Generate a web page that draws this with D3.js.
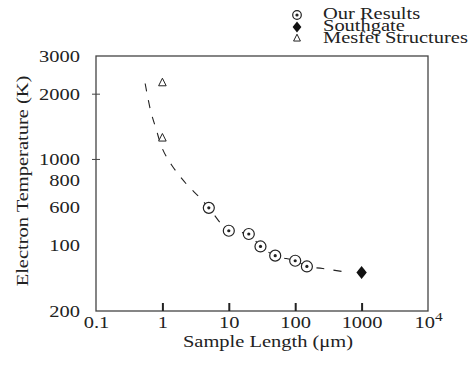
<!doctype html>
<html lang="en">
<head>
	<meta charset="UTF-8">
	<title>electron temperature</title>
	<script src="https://d3js.org/d3.v7.min.js"></script>
	<style>
		body { margin: 0; background: #fff; }
		svg text { font-family: 'Liberation Serif', 'DejaVu Serif', serif; fill: #222; }
	</style>
</head>
<body>
	<div id="chart"></div>
	<script>
		// data
		var ourLength = [5, 10, 20, 30, 50, 100, 150]
		var ourTemp = [598, 469, 453, 397, 360, 341, 321]
		var southLength = [1000]
		var southTemp = [301]
		var mesfetLength = [1, 1]
		var mesfetTemp = [2266, 1260]
		// dashed fit line
		var fitLength = [0.55, 0.67, 0.8, 1.0, 1.4, 2.3, 3.6, 5, 10, 20, 30, 50, 100, 150, 260, 560]
		var fitTemp = [2240, 1660, 1390, 1120, 935, 770, 670, 598, 469, 453, 397, 360, 341, 321, 314, 303]

		var xTickValues = [0.1, 1, 10, 100, 1000, 10000]
		var xTickLabels = ['0.1', '1', '10', '100', '1000', '10^4']
		var yLabelValues = [3000, 2000, 1000, 800, 600, 400, 200]
		var yTickLabels = ['3000', '2000', '1000', '800', '600', '100', '200']
		var yTickMarks = [2000, 1000]
		var legendLabels = ['Our Results', 'Southgate', 'Mesfet Structures']

		var w = 474, h = 374
		var m_left = 96, m_right = 428, m_top = 56, m_bottom = 311
		var fs = 16, stretch = 1.28   // the text in the figure is wide

		var svg = d3.select('#chart').append('svg')
			.attr('width', w)
			.attr('height', h)

		var x = d3.scaleLog().domain([0.1, 10000]).range([m_left, m_right])
		var y = d3.scaleLog().domain([200, 3000]).range([m_bottom, m_top])

		/* --------------------------------- frame --------------------------------- */
		svg.append('rect')
			.attr('x', m_left).attr('y', m_top)
			.attr('width', m_right - m_left).attr('height', m_bottom - m_top)
			.attr('fill', 'none')
			.attr('stroke', '#444')
			.attr('stroke-width', 1.3)

		/* --------------------------------- x axis -------------------------------- */
		var xAxis = svg.append('g')
			.attr('transform', 'translate(0,' + m_bottom + ')')
			.call(d3.axisBottom(x).tickValues(xTickValues).tickSize(-8).tickPadding(6)
				.tickFormat(function(d, i) { return xTickLabels[i] }))
		xAxis.select('.domain').remove()
		xAxis.selectAll('.tick line')
			.attr('stroke', '#222').attr('stroke-width', 2)
			.filter(function(d) { return d == 0.1 || d == 10000 }).remove()
		xAxis.selectAll('.tick text')
			.attr('font-size', fs)
			.attr('fill', '#222')
			.attr('transform', 'scale(' + stretch + ',1)')
			.each(function(d, i) {
				var lab = xTickLabels[i]
				if (lab.indexOf('^') > 0) {
					var parts = lab.split('^')
					var t = d3.select(this).text(null)
					t.append('tspan').text(parts[0])
					t.append('tspan').attr('dy', -7).attr('font-size', 12).text(parts[1])
				}
			})

		svg.append('text')
			.attr('transform', 'translate(268,347) scale(' + stretch + ',1)')
			.attr('text-anchor', 'middle')
			.attr('font-size', fs)
			.text('Sample Length (\u03bcm)')

		/* --------------------------------- y axis -------------------------------- */
		var yAxis = svg.append('g')
			.attr('transform', 'translate(' + (m_left - 16) + ',0)')
			.call(d3.axisLeft(y).tickValues(yLabelValues).tickSize(0).tickPadding(0)
				.tickFormat(function(d, i) { return yTickLabels[i] }))
		yAxis.select('.domain').remove()
		yAxis.selectAll('.tick text')
			.attr('font-size', fs)
			.attr('fill', '#222')
			.attr('transform', 'scale(' + stretch + ',1)')

		svg.selectAll('.ytick')
			.data(yTickMarks)
			.enter().append('line')
			.attr('x1', m_left - 4).attr('x2', m_left + 4)
			.attr('y1', function(d) { return y(d) })
			.attr('y2', function(d) { return y(d) })
			.attr('stroke', '#444').attr('stroke-width', 1)

		svg.append('text')
			.attr('transform', 'translate(28,181) rotate(-90) scale(' + stretch + ',1)')
			.attr('text-anchor', 'middle')
			.attr('font-size', fs)
			.text('Electron Temperature (K)')

		/* ----------------------------- dashed fit line ---------------------------- */
		var line = d3.line()
			.x(function(d, i) { return x(fitLength[i]) })
			.y(function(d, i) { return y(fitTemp[i]) })
			.curve(d3.curveCatmullRom)
		svg.append('path')
			.attr('d', line(fitLength))
			.attr('fill', 'none')
			.attr('stroke', '#222')
			.attr('stroke-width', 1.1)
			.attr('stroke-dasharray', '8,9')

		/* --------------------------------- markers -------------------------------- */
		function circleMark(g, cx, cy, r) {
			g.append('circle').attr('cx', cx).attr('cy', cy).attr('r', r)
				.attr('fill', '#fff').attr('stroke', '#222').attr('stroke-width', 1.2)
			g.append('circle').attr('cx', cx).attr('cy', cy).attr('r', 1.6)
				.attr('fill', '#222')
		}
		function diamondMark(g, cx, cy, s) {
			g.append('path')
				.attr('d', 'M0,' + (-s) + 'L' + (0.8 * s) + ',0L0,' + s + 'L' + (-0.8 * s) + ',0Z')
				.attr('transform', 'translate(' + cx + ',' + cy + ')')
				.attr('fill', '#111')
		}
		function triMark(g, cx, cy, s) {
			g.append('path')
				.attr('d', 'M0,' + (-s) + 'L' + (0.9 * s) + ',' + (0.8 * s) + 'L' + (-0.9 * s) + ',' + (0.8 * s) + 'Z')
				.attr('transform', 'translate(' + cx + ',' + cy + ')')
				.attr('fill', '#fff').attr('stroke', '#222').attr('stroke-width', 1)
		}

		var marks = svg.append('g')
		ourLength.forEach(function(d, i) { circleMark(marks, x(d), y(ourTemp[i]), 5.5) })
		southLength.forEach(function(d, i) { diamondMark(marks, x(d), y(southTemp[i]), 6.5) })
		mesfetLength.forEach(function(d, i) { triMark(marks, x(d), y(mesfetTemp[i]), 4.2) })

		/* --------------------------------- legend --------------------------------- */
		var legend = svg.append('g')
		circleMark(legend, 297, 15, 4.3)
		diamondMark(legend, 297, 27, 5.5)
		triMark(legend, 297, 38, 3.8)
		legendLabels.forEach(function(lab, i) {
			legend.append('text')
				.attr('transform', 'translate(323,' + (19 + i * 12) + ') scale(' + stretch + ',1)')
				.attr('font-size', fs)
				.text(lab)
		})
	</script>
</body>
</html>
